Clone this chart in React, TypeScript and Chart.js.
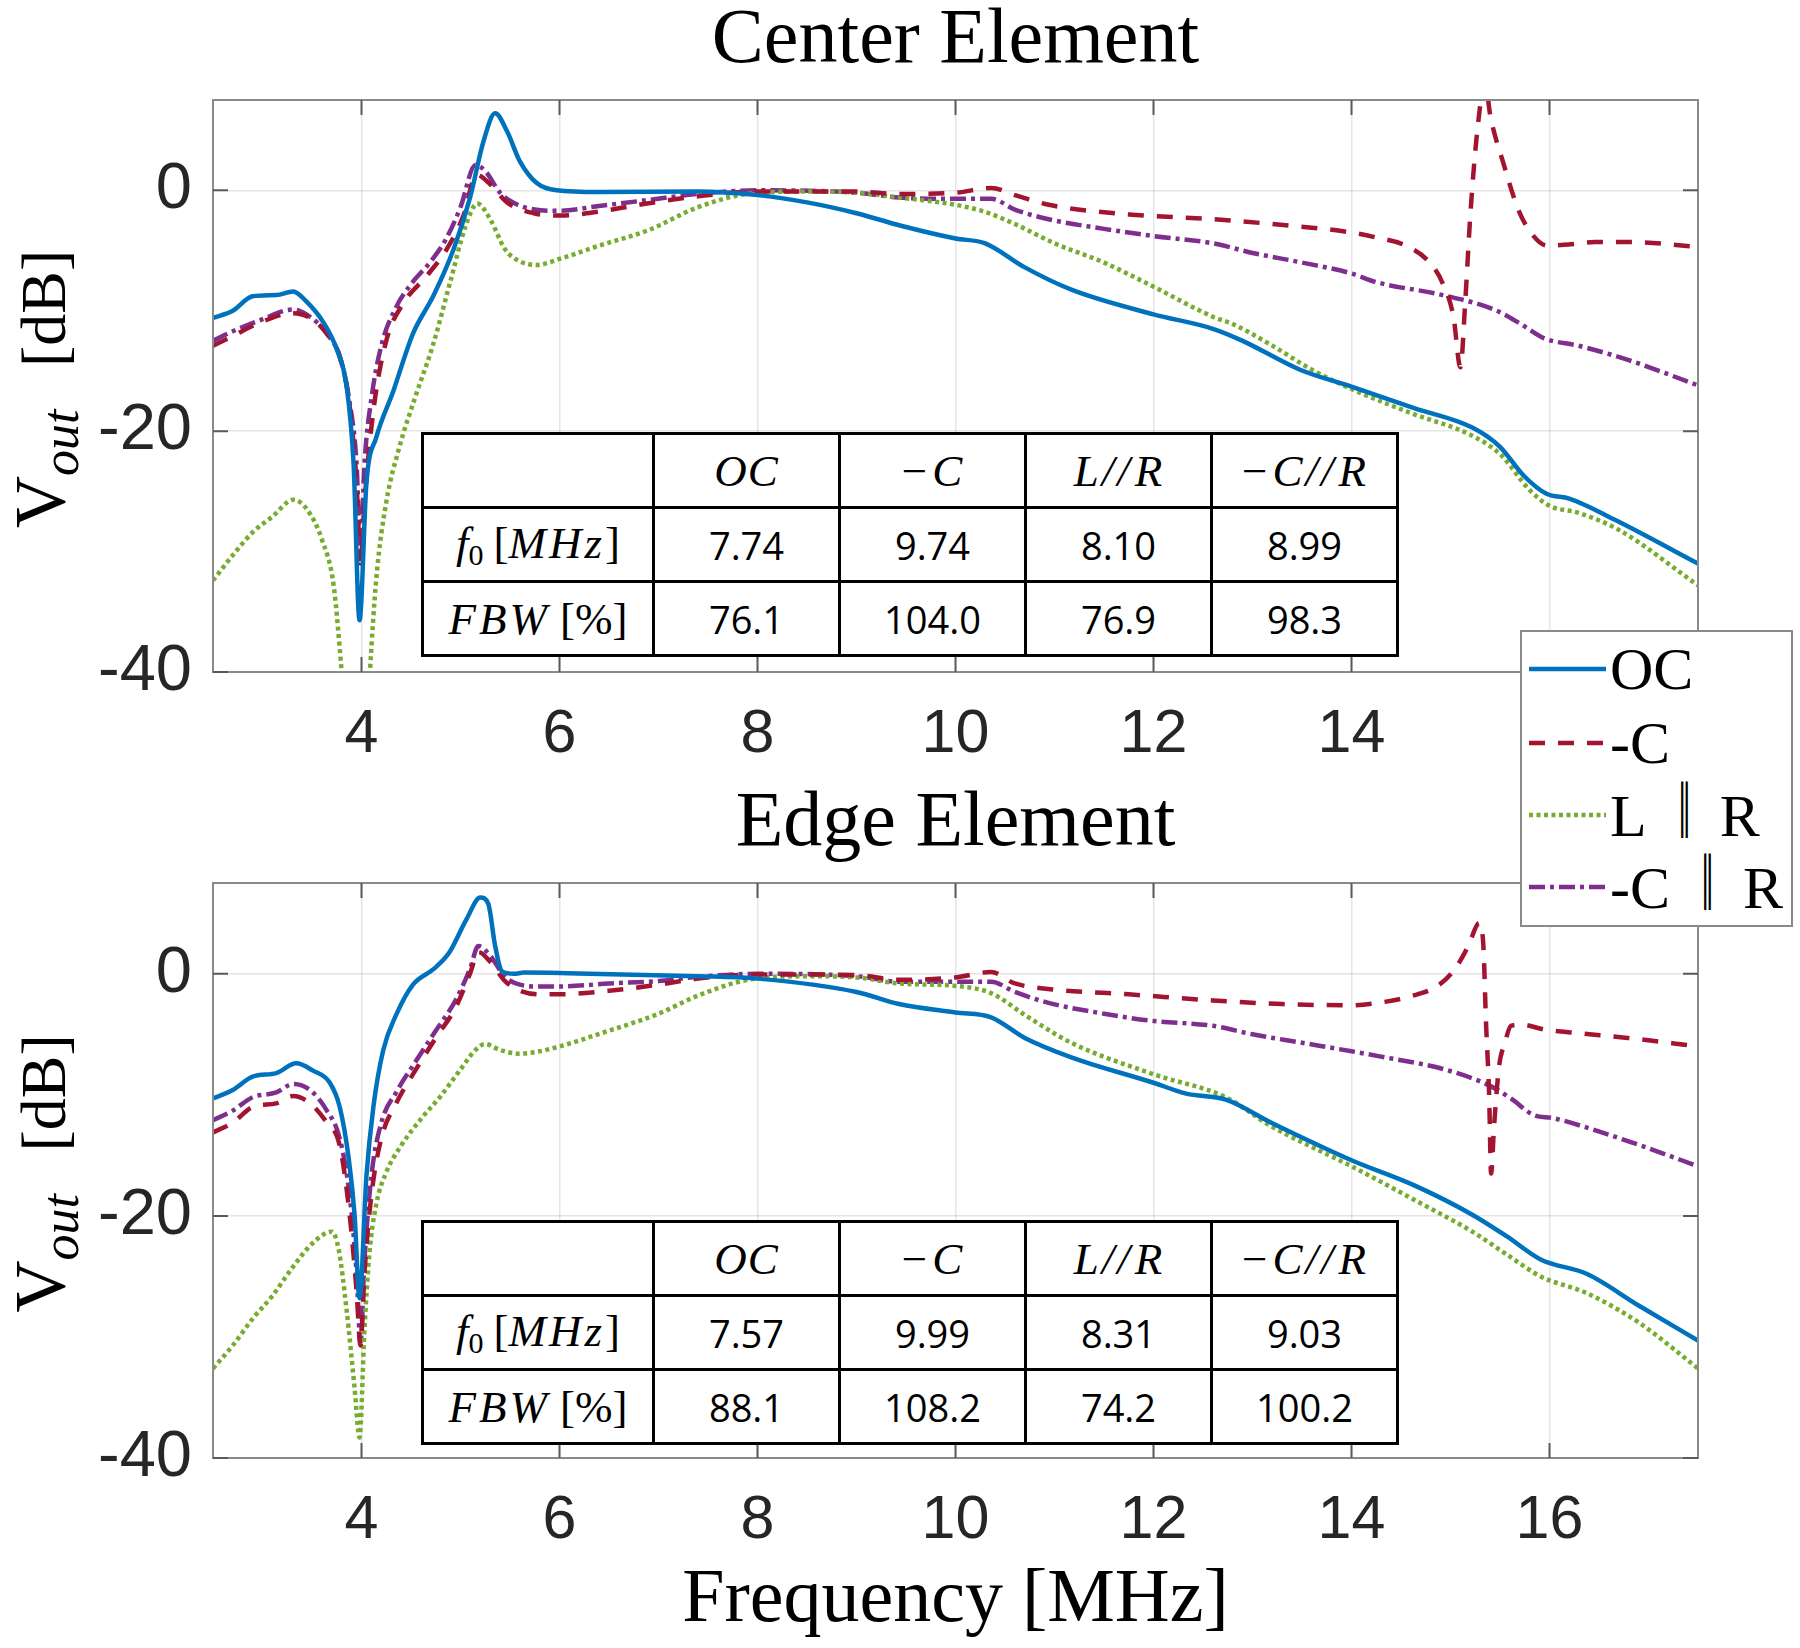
import React, { useEffect, useRef } from "react";
import { Chart, registerables } from "chart.js";

Chart.register(...registerables);

const SERIF = '"Liberation Serif", "Times New Roman", serif';
const SANS = '"Liberation Sans", Arial, sans-serif';
const TABLE_SANS = '"Open Sans", "Liberation Sans", sans-serif';

// ---------- axes ----------
const X_MIN = 2.5;
const X_MAX = 17.5;
const Y_MIN = -40;
const Y_MAX = 7.5;
const X_TICKS = [4, 6, 8, 10, 12, 14, 16];
const Y_TICKS = [-40, -20, 0];

// ---------- series ----------
const SERIES_NAMES = ["OC", "-C", "L \u2016 R", "-C \u2016 R"];
const SERIES_COLORS = ["#0072BD", "#A2142F", "#77AC30", "#7E2F8E"];
const SERIES_DASHES: number[][] = [[], [16, 13], [4, 3.5], [16, 5, 4, 5]];

// ---------- Center Element ----------
const CENTER_OC_F = [2.5, 2.7, 2.9, 3.14, 3.31, 3.44, 3.61, 3.75, 3.85, 3.92, 3.98, 4.05, 4.15, 4.32, 4.52, 4.73, 4.93, 5.1, 5.23, 5.35, 5.47, 5.6, 5.77, 5.97, 6.4, 7.4, 8.0, 8.5, 9.0, 9.43, 10.0, 10.3, 10.7, 11.17, 12.0, 12.6, 12.9, 13.48, 14.0, 14.64, 15.22, 15.5, 15.74, 15.97, 16.2, 16.67, 17.5];
const CENTER_OC_DB = [-10.6, -10.0, -8.8, -8.7, -8.4, -9.2, -10.9, -13.2, -16.3, -22.7, -35.7, -24.3, -20.5, -16.7, -11.9, -8.7, -4.9, -0.5, 4.0, 6.4, 4.9, 2.4, 0.6, 0.0, -0.15, -0.1, -0.4, -1.0, -1.9, -2.9, -4.0, -4.4, -6.4, -8.25, -10.3, -11.5, -12.5, -14.9, -16.3, -18.1, -19.7, -21.3, -23.7, -25.2, -25.6, -27.4, -31.0];

const CENTER_C_F = [2.5, 2.7, 2.97, 3.31, 3.48, 3.65, 3.78, 3.88, 3.95, 3.99, 4.03, 4.12, 4.25, 4.42, 4.66, 4.86, 5.03, 5.16, 5.3, 5.47, 5.74, 6.0, 6.41, 6.92, 7.4, 8.0, 9.0, 9.43, 10.0, 10.36, 10.6, 10.94, 11.75, 12.6, 13.2, 14.0, 14.24, 14.55, 14.79, 14.92, 15.03, 15.1, 15.15, 15.2, 15.27, 15.35, 15.4, 15.54, 15.68, 15.81, 15.98, 16.19, 16.46, 16.84, 17.5];
const CENTER_C_DB = [-12.9, -12.1, -11.0, -10.2, -10.6, -11.9, -13.8, -17.9, -24.3, -31.0, -25.9, -18.3, -12.5, -9.4, -7.1, -4.9, -2.1, 1.3, 0.5, -1.0, -1.9, -2.1, -1.75, -1.05, -0.5, -0.1, -0.1, -0.3, -0.2, 0.2, -0.4, -1.2, -2.0, -2.4, -2.8, -3.5, -3.9, -4.6, -6.0, -7.7, -10.5, -14.7, -9.1, -2.1, 4.9, 9.0, 6.3, 2.1, -1.5, -3.5, -4.6, -4.5, -4.3, -4.3, -4.7];

const CENTER_LR_F = [2.5, 2.7, 2.9, 3.1, 3.31, 3.45, 3.6, 3.72, 3.8, 3.88, 3.98, 4.04, 4.085, 4.15, 4.25, 4.38, 4.55, 4.72, 4.9, 5.05, 5.17, 5.3, 5.45, 5.6, 5.77, 6.0, 6.4, 6.9, 7.4, 7.9, 8.5, 9.0, 9.43, 10.0, 10.3, 10.6, 11.0, 11.5, 12.0, 12.6, 12.8, 13.2, 13.6, 14.0, 14.6, 15.2, 15.5, 15.8, 16.0, 16.3, 16.7, 17.5];
const CENTER_LR_DB = [-32.4, -30.3, -28.4, -27.1, -25.7, -26.5, -29.0, -32.9, -40.0, -48.0, -55.0, -47.0, -40.0, -32.2, -25.9, -21.4, -17.0, -12.9, -7.5, -3.0, -1.1, -2.4, -4.9, -5.9, -6.2, -5.7, -4.6, -3.3, -1.4, -0.3, -0.1, -0.2, -0.6, -1.2, -1.8, -2.8, -4.4, -6.0, -8.0, -10.5, -11.1, -12.9, -14.9, -16.5, -18.5, -20.3, -21.9, -24.9, -26.2, -26.8, -28.2, -32.8];

const CENTER_CR_F = [2.5, 2.7, 2.97, 3.31, 3.48, 3.65, 3.78, 3.88, 3.95, 3.99, 4.03, 4.1, 4.2, 4.35, 4.5, 4.7, 4.85, 5.0, 5.15, 5.25, 5.4, 5.55, 5.75, 6.0, 6.4, 6.9, 7.4, 8.0, 9.0, 9.43, 10.0, 10.36, 10.6, 10.94, 11.5, 12.0, 12.6, 13.0, 13.5, 14.0, 14.24, 14.92, 15.44, 15.71, 15.95, 16.29, 16.8, 17.5];
const CENTER_CR_DB = [-12.5, -11.7, -10.8, -9.9, -10.5, -11.9, -13.8, -17.6, -22.7, -30.0, -22.7, -17.3, -12.9, -9.7, -7.8, -5.9, -4.1, -1.4, 2.1, 1.6, -0.2, -1.1, -1.6, -1.7, -1.3, -0.8, -0.3, 0.0, -0.2, -0.6, -0.7, -0.7, -1.6, -2.4, -3.2, -3.8, -4.4, -5.2, -6.0, -6.9, -7.6, -8.7, -9.9, -11.1, -12.3, -12.9, -14.1, -16.2];

// ---------- Edge Element ----------
const EDGE_OC_F = [2.5, 2.7, 2.9, 3.14, 3.34, 3.51, 3.68, 3.78, 3.87, 3.93, 3.98, 4.05, 4.12, 4.22, 4.35, 4.52, 4.73, 4.89, 5.06, 5.2, 5.28, 5.35, 5.42, 5.54, 5.64, 6.08, 7.4, 8.0, 9.0, 9.43, 10.0, 10.36, 10.7, 11.17, 12.0, 12.33, 12.73, 13.19, 14.0, 14.64, 15.22, 15.57, 15.91, 16.38, 16.9, 17.5];
const EDGE_OC_DB = [-10.3, -9.6, -8.5, -8.2, -7.4, -8.0, -9.0, -11.0, -15.2, -19.9, -26.8, -16.7, -11.0, -6.3, -3.4, -0.9, 0.4, 1.8, 4.5, 6.3, 5.8, 2.3, 0.2, 0.0, 0.1, 0.05, -0.2, -0.4, -1.5, -2.5, -3.2, -3.6, -5.3, -6.9, -9.0, -9.9, -10.4, -12.3, -15.4, -17.5, -19.9, -21.7, -23.6, -24.8, -27.4, -30.3];

const EDGE_C_F = [2.5, 2.7, 2.9, 3.14, 3.31, 3.48, 3.65, 3.78, 3.88, 3.95, 3.99, 4.03, 4.1, 4.2, 4.35, 4.55, 4.75, 4.95, 5.1, 5.18, 5.3, 5.45, 5.6, 5.8, 6.0, 6.5, 7.0, 7.4, 8.0, 9.0, 9.43, 10.0, 10.36, 10.6, 11.0, 11.75, 12.6, 13.3, 14.0, 14.27, 14.6, 14.87, 15.04, 15.18, 15.29, 15.33, 15.36, 15.39, 15.41, 15.44, 15.49, 15.55, 15.61, 15.71, 15.95, 16.29, 16.79, 17.5];
const EDGE_C_DB = [-13.1, -12.3, -11.0, -10.7, -10.1, -10.7, -12.3, -14.2, -19.9, -26.2, -30.7, -24.7, -18.3, -13.6, -10.7, -7.9, -5.3, -2.8, 0.1, 1.8, 1.0, -0.6, -1.4, -1.7, -1.7, -1.4, -0.9, -0.4, -0.05, -0.1, -0.5, -0.3, 0.15, -0.8, -1.3, -1.7, -2.2, -2.5, -2.6, -2.4, -1.85, -1.0, 0.35, 2.3, 4.2, 2.6, -4.3, -9.9, -16.5, -12.6, -7.7, -5.7, -4.3, -4.2, -4.6, -4.9, -5.3, -6.0];

const EDGE_LR_F = [2.5, 2.7, 2.9, 3.1, 3.3, 3.5, 3.7, 3.77, 3.85, 3.93, 3.98, 4.03, 4.08, 4.15, 4.25, 4.4, 4.6, 4.8, 5.0, 5.15, 5.25, 5.4, 5.6, 5.8, 6.0, 6.5, 7.0, 7.4, 7.9, 8.5, 9.0, 9.43, 10.0, 10.36, 10.7, 11.17, 12.0, 12.73, 13.19, 14.0, 14.64, 15.22, 15.57, 15.91, 16.38, 16.9, 17.5];
const EDGE_LR_DB = [-32.6, -30.7, -28.5, -26.6, -24.3, -22.3, -21.3, -22.8, -27.8, -34.2, -38.3, -29.4, -23.1, -19.0, -16.4, -14.2, -12.0, -10.1, -7.9, -6.3, -5.8, -6.3, -6.6, -6.4, -6.0, -4.7, -3.3, -1.8, -0.5, -0.2, -0.3, -0.8, -1.0, -1.6, -3.4, -5.7, -8.3, -10.2, -12.6, -15.9, -18.7, -21.3, -23.2, -25.0, -26.4, -28.8, -32.6];

const EDGE_CR_F = [2.5, 2.7, 2.9, 3.14, 3.31, 3.48, 3.65, 3.78, 3.88, 3.95, 3.99, 4.03, 4.1, 4.2, 4.35, 4.55, 4.75, 4.95, 5.1, 5.18, 5.3, 5.45, 5.6, 5.8, 6.0, 6.5, 7.0, 7.4, 8.0, 9.0, 9.43, 10.0, 10.36, 10.6, 10.94, 11.5, 12.0, 12.6, 13.0, 13.5, 14.0, 14.27, 14.94, 15.41, 15.61, 15.85, 16.02, 16.45, 16.96, 17.5];
const EDGE_CR_DB = [-12.1, -11.3, -10.2, -9.8, -9.1, -9.6, -11.3, -13.6, -18.3, -24.7, -30.4, -23.7, -16.7, -12.3, -9.8, -7.2, -4.7, -2.2, 0.5, 2.3, 1.5, -0.25, -0.9, -1.05, -1.05, -0.8, -0.6, -0.25, 0.0, -0.2, -0.65, -0.65, -0.65, -1.5, -2.4, -3.3, -3.9, -4.3, -5.0, -5.7, -6.4, -6.8, -7.9, -9.3, -10.3, -11.7, -11.9, -12.9, -14.3, -15.9];

// ---------- tables ----------
const TABLE_COLS = ["OC", "\u2212C", "L//R", "\u2212C//R"];
const CENTER_F0 = [7.74, 9.74, 8.1, 8.99];
const CENTER_FBW = [76.1, 104.0, 76.9, 98.3];
const EDGE_F0 = [7.57, 9.99, 8.31, 9.03];
const EDGE_FBW = [88.1, 108.2, 74.2, 100.2];

const CENTER_SERIES = [
  [CENTER_OC_F, CENTER_OC_DB],
  [CENTER_C_F, CENTER_C_DB],
  [CENTER_LR_F, CENTER_LR_DB],
  [CENTER_CR_F, CENTER_CR_DB],
];
const EDGE_SERIES = [
  [EDGE_OC_F, EDGE_OC_DB],
  [EDGE_C_F, EDGE_C_DB],
  [EDGE_LR_F, EDGE_LR_DB],
  [EDGE_CR_F, EDGE_CR_DB],
];

const framePlugin = {
  id: "frame",
  afterDatasetsDraw(chart: any) {
    const { ctx, chartArea: a, scales } = chart;
    ctx.save();
    ctx.strokeStyle = "#8a8a8a";
    ctx.lineWidth = 2;
    ctx.strokeRect(a.left, a.top, a.right - a.left, a.bottom - a.top);
    ctx.strokeStyle = "#5a5a5a";
    ctx.lineWidth = 2;
    const L = 15;
    ctx.beginPath();
    X_TICKS.forEach((v) => {
      const px = scales.x.getPixelForValue(v);
      ctx.moveTo(px, a.bottom);
      ctx.lineTo(px, a.bottom - L);
      ctx.moveTo(px, a.top);
      ctx.lineTo(px, a.top + L);
    });
    Y_TICKS.forEach((v) => {
      const py = scales.y.getPixelForValue(v);
      ctx.moveTo(a.left, py);
      ctx.lineTo(a.left + L, py);
      ctx.moveTo(a.right, py);
      ctx.lineTo(a.right - L, py);
    });
    ctx.stroke();
    ctx.restore();
  },
};

const yLabelPlugin = {
  id: "ylabel",
  afterDraw(chart: any) {
    const { ctx, chartArea: a } = chart;
    const cy = (a.top + a.bottom) / 2;
    ctx.save();
    ctx.translate(64, cy + 142);
    ctx.rotate(-Math.PI / 2);
    ctx.fillStyle = "#000";
    ctx.textAlign = "left";
    ctx.textBaseline = "alphabetic";
    ctx.font = `72px ${SERIF}`;
    ctx.fillText("V", 0, 0);
    ctx.font = `italic 52px ${SERIF}`;
    ctx.fillText("out", 52, 14);
    ctx.font = `64px ${SERIF}`;
    ctx.fillText("[dB]", 161, 1);
    ctx.restore();
  },
};

function buildConfig(title: string, series: number[][][], bottom: boolean): any {
  const datasets = series.map(([f, v], i) => ({
    label: SERIES_NAMES[i],
    data: f.map((x, k) => ({ x, y: v[k] })),
    borderColor: SERIES_COLORS[i],
    backgroundColor: SERIES_COLORS[i],
    borderWidth: 4.5,
    borderDash: SERIES_DASHES[i],
    borderCapStyle: "butt",
    borderJoinStyle: "round",
    pointRadius: 0,
    fill: false,
    cubicInterpolationMode: "monotone",
    clip: 0,
  }));
  return {
    type: "line",
    data: { datasets },
    plugins: [framePlugin, yLabelPlugin],
    options: {
      animation: false,
      responsive: false,
      devicePixelRatio: 1,
      layout: { padding: { left: 0, right: 102, top: 0, bottom: 0 } },
      plugins: {
        legend: { display: false },
        tooltip: { enabled: false },
        title: {
          display: true,
          text: title,
          fullSize: false,
          color: "#000",
          font: { family: SERIF, size: 78, weight: "normal", lineHeight: 1 },
          padding: { top: bottom ? 16 : 3, bottom: 19 },
        },
      },
      scales: {
        x: {
          type: "linear",
          min: X_MIN,
          max: X_MAX,
          afterBuildTicks: (s: any) => {
            s.ticks = X_TICKS.map((v) => ({ value: v }));
          },
          afterFit: (s: any) => {
            s.height = bottom ? 190 : 98;
          },
          grid: { color: "rgba(0,0,0,0.1)", lineWidth: 1.5, drawTicks: false },
          border: { display: false },
          ticks: {
            font: { family: SANS, size: 61 },
            color: "#262626",
            padding: 27,
            maxRotation: 0,
            autoSkip: false,
          },
          title: {
            display: bottom,
            text: "Frequency [MHz]",
            color: "#000",
            font: { family: SERIF, size: 76, lineHeight: 1 },
            padding: { top: 0, bottom: 9 },
          },
        },
        y: {
          type: "linear",
          min: Y_MIN,
          max: Y_MAX,
          afterBuildTicks: (s: any) => {
            s.ticks = Y_TICKS.map((v) => ({ value: v }));
          },
          afterFit: (s: any) => {
            s.width = 213;
          },
          grid: { color: "rgba(0,0,0,0.1)", lineWidth: 1.5, drawTicks: false },
          border: { display: false },
          ticks: {
            font: { family: SANS, size: 65 },
            color: "#262626",
            padding: 21,
            autoSkip: false,
          },
        },
      },
    },
  };
}

function Plot(props: { top: number; height: number; title: string; series: number[][][]; bottom: boolean }) {
  const ref = useRef<HTMLCanvasElement>(null);
  useEffect(() => {
    const chart = new Chart(ref.current as HTMLCanvasElement, buildConfig(props.title, props.series, props.bottom));
    return () => chart.destroy();
  }, []);
  return (
    <canvas
      ref={ref}
      width={1800}
      height={props.height}
      style={{ position: "absolute", left: 0, top: props.top, width: 1800, height: props.height }}
    />
  );
}

function renderHead(label: string) {
  const minus = label.startsWith("\u2212");
  const body = minus ? label.slice(1) : label;
  const parts = body.split("//");
  return (
    <span>
      {minus ? <span style={{ marginRight: 4 }}>{"\u2212"}</span> : null}
      {parts.map((p, i) => (
        <React.Fragment key={i}>
          {i > 0 ? <i style={{ margin: "0 2px", letterSpacing: 3 }}>//</i> : null}
          <i>{p}</i>
        </React.Fragment>
      ))}
    </span>
  );
}

function InfoTable(props: { top: number; f0: number[]; fbw: number[] }) {
  const cell: React.CSSProperties = {
    border: "3px solid #000",
    textAlign: "center",
    verticalAlign: "middle",
    padding: 0,
  };
  const head: React.CSSProperties = { ...cell, fontFamily: SERIF, fontSize: 45 };
  const val: React.CSSProperties = { ...cell, fontFamily: TABLE_SANS, fontSize: 38 };
  return (
    <table
      style={{
        position: "absolute",
        left: 421,
        top: props.top,
        width: 975,
        height: 223,
        borderCollapse: "collapse",
        tableLayout: "fixed",
        background: "#fff",
        color: "#000",
      }}
    >
      <colgroup>
        <col style={{ width: 231 }} />
        {TABLE_COLS.map((c) => (
          <col key={c} style={{ width: 186 }} />
        ))}
      </colgroup>
      <tbody>
        <tr style={{ height: 74 }}>
          <td style={cell}></td>
          {TABLE_COLS.map((c) => (
            <td key={c} style={{ ...head, letterSpacing: 1 }}>
              {renderHead(c)}
            </td>
          ))}
        </tr>
        <tr style={{ height: 74 }}>
          <td style={head}>
            <i>f</i>
            <span style={{ fontSize: 30, verticalAlign: "-7px" }}>0</span>
            <span style={{ marginLeft: 10 }}>[</span>
            <i style={{ letterSpacing: 3 }}>MHz</i>]
          </td>
          {props.f0.map((v, i) => (
            <td key={i} style={val}>
              {v.toFixed(2)}
            </td>
          ))}
        </tr>
        <tr style={{ height: 74 }}>
          <td style={head}>
            <i style={{ letterSpacing: 3 }}>FBW</i>
            <span style={{ marginLeft: 10 }}>[%]</span>
          </td>
          {props.fbw.map((v, i) => (
            <td key={i} style={val}>
              {v.toFixed(1)}
            </td>
          ))}
        </tr>
      </tbody>
    </table>
  );
}

function LegendLabel(props: { name: string }) {
  const parts = props.name.split(" \u2016 ");
  if (parts.length === 1) return <span>{props.name}</span>;
  return (
    <span>
      {parts[0]}
      <span
        style={{
          fontFamily: '"DejaVu Serif", serif',
          fontSize: 62,
          margin: "0 20px 0 22px",
          display: "inline-block",
          transform: "translateY(-9px) scale(0.45, 0.9)",
        }}
      >
        {"\u2016"}
      </span>
      {parts[1]}
    </span>
  );
}

function Legend() {
  const rowY = [39, 113, 185, 257];
  return (
    <div
      style={{
        position: "absolute",
        left: 1520,
        top: 630,
        width: 273,
        height: 297,
        border: "2px solid #8a8a8a",
        background: "#fff",
        boxSizing: "border-box",
      }}
    >
      {SERIES_NAMES.map((name, i) => (
        <div key={name}>
          <svg
            width={82}
            height={12}
            style={{ position: "absolute", left: 4, top: rowY[i] - 6 - 2 }}
          >
            <line
              x1={3}
              x2={80}
              y1={6}
              y2={6}
              stroke={SERIES_COLORS[i]}
              strokeWidth={4.5}
              strokeDasharray={SERIES_DASHES[i].length ? SERIES_DASHES[i].join(" ") : undefined}
            />
          </svg>
          <span
            style={{
              position: "absolute",
              left: 88,
              top: rowY[i] - 30 - 2,
              fontFamily: SERIF,
              fontSize: 60,
              lineHeight: "60px",
              whiteSpace: "nowrap",
              color: "#000",
            }}
          >
            <LegendLabel name={name} />
          </span>
        </div>
      ))}
    </div>
  );
}

export default function App() {
  return (
    <div
      style={{
        position: "absolute",
        left: 0,
        top: 0,
        width: 1800,
        height: 1648,
        background: "#fff",
        overflow: "hidden",
      }}
    >
      <Plot top={0} height={770} title="Center Element" series={CENTER_SERIES} bottom={false} />
      <Plot top={770} height={878} title="Edge Element" series={EDGE_SERIES} bottom={true} />
      <InfoTable top={432} f0={CENTER_F0} fbw={CENTER_FBW} />
      <InfoTable top={1220} f0={EDGE_F0} fbw={EDGE_FBW} />
      <Legend />
    </div>
  );
}
